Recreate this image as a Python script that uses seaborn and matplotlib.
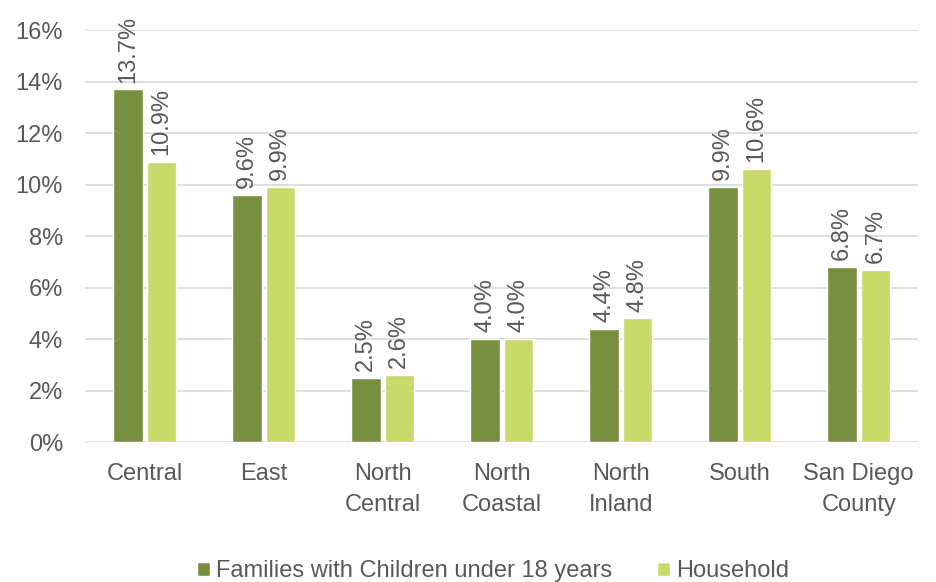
import pandas as pd
import seaborn as sns
import matplotlib.pyplot as plt
from matplotlib.ticker import FuncFormatter, MultipleLocator

# Chart data (percent)
regions = ["Central", "East", "North\nCentral", "North\nCoastal", "North\nInland", "South", "San Diego\nCounty"]
families = [13.7, 9.6, 2.5, 4.0, 4.4, 9.9, 6.8]
household = [10.9, 9.9, 2.6, 4.0, 4.8, 10.6, 6.7]
series_names = ["Families with Children under 18 years", "Household"]

df = pd.DataFrame({
    "region": regions * 2,
    "value": families + household,
    "series": [series_names[0]] * len(regions) + [series_names[1]] * len(regions),
})

sns.set_style("white")
plt.rcParams["font.family"] = ["Liberation Sans", "DejaVu Sans"]
text_color = "#595959"

fig = plt.figure(figsize=(9.36, 5.82), dpi=100)
ax = fig.add_axes([0.091, 0.2405, 0.89, 0.7075])

ax.yaxis.set_major_locator(MultipleLocator(2))
ax.grid(axis="y", color="#D9D9D9", linewidth=1.2)
ax.set_axisbelow(True)

sns.barplot(data=df, x="region", y="value", hue="series",
            palette=["#77903F", "#C8DA6A"], width=0.56, gap=0.12,
            saturation=1, ax=ax, legend=True)

for container in ax.containers:
    ax.bar_label(container, fmt="%.1f%%", rotation=90, padding=5,
                 fontsize=17, color=text_color)

ax.set_ylim(0, 16)
ax.set_xlim(-0.5, len(regions) - 0.5)
ax.yaxis.set_major_formatter(FuncFormatter(lambda v, p: f"{v:.0f}%"))
ax.set_xlabel("")
ax.set_ylabel("")
ax.tick_params(axis="both", length=0, labelsize=17, colors=text_color)
ax.tick_params(axis="x", pad=15)
ax.tick_params(axis="y", pad=16)
for lbl in ax.get_xticklabels():
    lbl.set_linespacing(1.55)
for s in ax.spines.values():
    s.set_visible(False)

ax.legend(loc="upper center", bbox_to_anchor=(0.49, -0.235), ncol=2, frameon=False,
          fontsize=17, labelcolor=text_color, handlelength=0.55, handleheight=0.55,
          handletextpad=0.25, columnspacing=1.9)

plt.savefig("out.png", dpi=100)
